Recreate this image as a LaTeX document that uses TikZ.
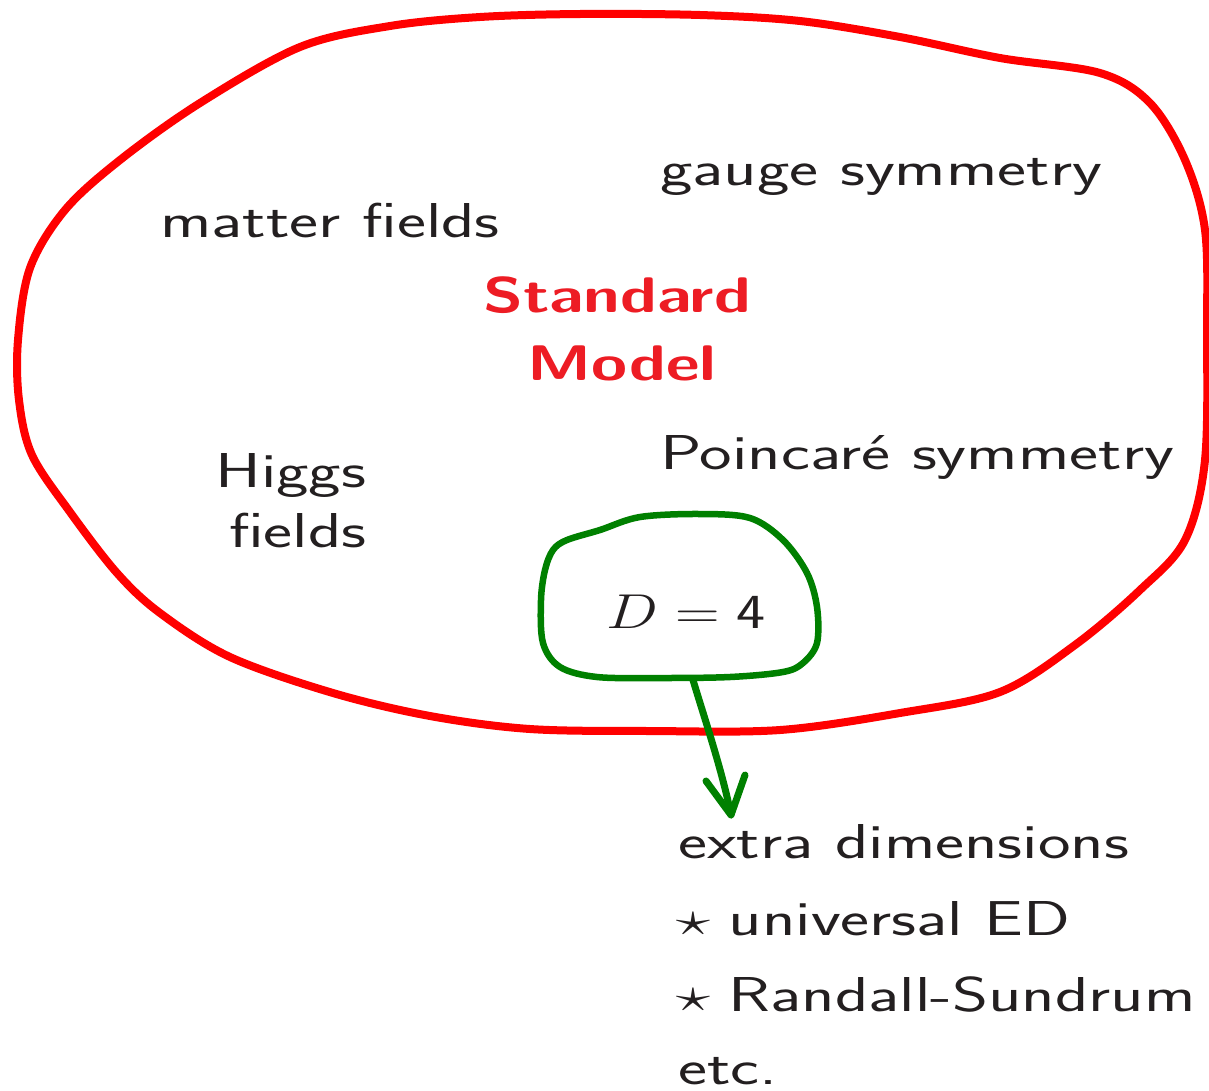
\RequirePackage{fix-cm}
\documentclass[tikz,border=0pt]{standalone}
\usetikzlibrary{calc}
\definecolor{txtcol}{RGB}{35,31,32}
\definecolor{smred}{RGB}{237,28,36}
\definecolor{linered}{RGB}{255,0,0}
\definecolor{drawgreen}{RGB}{0,128,0}
\newcommand{\hstretch}[1]{\scalebox{1.41}[1]{#1}}
\newcommand{\bstretch}[1]{\scalebox{1.31}[1]{#1}}
\newcommand{\mstretch}[1]{\scalebox{1.26}[1]{#1}}
\tikzset{
  txt/.style={anchor=base west, inner sep=0pt, text=txtcol, font=\sffamily\fontsize{49}{58}\selectfont},
  smtxt/.style={anchor=base, inner sep=0pt, text=smred, font=\sffamily\bfseries\fontsize{50}{60}\selectfont},
  redloop/.style={draw=linered, line width=8pt, line join=round},
  greenloop/.style={draw=drawgreen, line width=6.5pt, line join=round},
  greenarrow/.style={draw=drawgreen, line width=7pt, line cap=round, line join=round}
}
\begin{document}
\begin{tikzpicture}[x=1pt,y=-1pt]
\useasboundingbox (0,0) rectangle (1209,1090);
\fill[white] (0,0) rectangle (1209,1090);

% red hand-drawn loop
\draw[redloop] plot[smooth cycle, tension=0.55] coordinates {
 (480,17) (580,14) (700,15) (800,21) (900,37) (1000,58) (1100,73) (1150,103)
 (1185,160) (1205,230) (1207,330) (1205,460) (1185,540) (1140,590) (1075,645)
 (1000,692) (900,713) (780,730) (650,731) (530,729) (430,716) (333,693)
 (230,657) (160,613) (117,573) (70,512) (32,455) (19,400) (18,340) (30,268)
 (65,210) (120,160) (200,103) (300,47) (390,26)};

% green loop around D=4
\draw[greenloop] plot[smooth cycle, tension=0.55] coordinates {
 (567,540) (600,530) (640,517) (700,514) (750,518) (783,540) (807,573)
 (817,607) (817,643) (803,663) (783,672) (730,677) (660,678) (597,677)
 (560,667) (543,643) (541,600) (545,570) (553,550)};

\coordinate (blobbot) at (693,680);
\coordinate (tip) at (731,815);
\coordinate (armL) at (706,781);
\coordinate (armR) at (745,775);
\draw[greenarrow] (blobbot) .. controls (705,720) and (722,770) .. (tip);
\draw[greenarrow] (armL) -- (tip) -- (armR);

% texts
\node[txt] (gauge) at (660,185) {\hstretch{gauge symmetry}};
\node[txt] (matter) at (160,237) {\hstretch{matter fields}};
\node[smtxt] (sm1) at (617,312) {\bstretch{Standard}};
\node[smtxt] (sm2) at (622,380) {\bstretch{Model}};
\node[txt] (poinc) at (660,469) {\hstretch{Poincar\'e symmetry}};
\node[txt] (higgs1) at (215,487) {\hstretch{Higgs}};
\node[txt] (higgs2) at (229,547) {\hstretch{fields}};
\node[txt] (dfour) at (606,628) {\mstretch{$D=\mbox{4}$}};
\node[txt] (ed1) at (678,858) {\hstretch{extra dimensions}};
\node[txt] (ed2) at (676,935) {\hstretch{$\star$\kern-2pt{} universal ED}};
\node[txt] (ed3) at (676,1011) {\hstretch{$\star$\kern-2pt{} Randall-Sundrum}};
\node[txt] (ed4) at (678,1084) {\hstretch{etc.}};
\end{tikzpicture}
\end{document}
